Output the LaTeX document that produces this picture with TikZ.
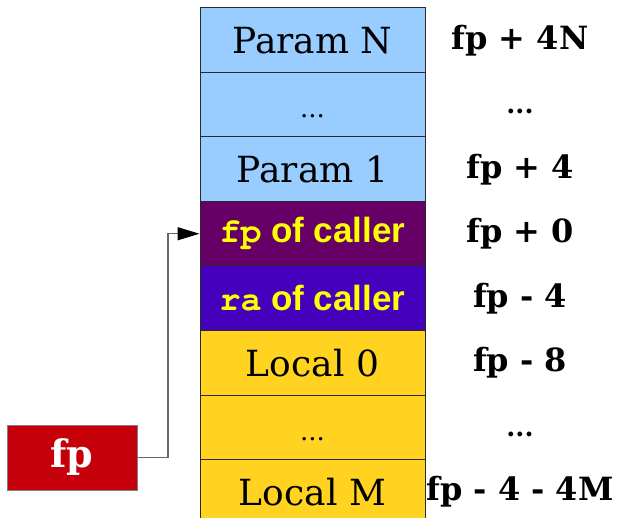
\documentclass[tikz,border=0pt]{standalone}
\usepackage{fontspec}
\setmainfont{DejaVu Serif}
\setsansfont{Liberation Sans}
\newfontfamily\cursorbold{texgyrecursor-bold.otf}
\usetikzlibrary{arrows.meta}
\definecolor{paramblue}{HTML}{99CCFF}
\definecolor{fpcaller}{HTML}{660066}
\definecolor{racaller}{HTML}{4400BB}
\definecolor{localyellow}{HTML}{FFD320}
\definecolor{fpred}{HTML}{C5000B}
\definecolor{txtyellow}{HTML}{FFFF00}
\definecolor{cellline}{HTML}{2A2A2A}
\newcommand{\regname}[1]{{\cursorbold #1}}
\newcommand{\celldots}{{\fontsize{26}{30}\selectfont ...}\vphantom{P}}
\newcommand{\offdots}{{\fontsize{26}{30}\selectfont ...}\vphantom{fp}}
\tikzset{
  cell/.style={draw=cellline, line width=1pt, minimum width=225pt, minimum height=64.5pt, inner sep=0pt, font=\fontsize{36}{42}\selectfont},
  callertext/.style={text=txtyellow, font=\fontsize{35}{40}\selectfont\sffamily\bfseries},
  offset/.style={inner sep=0pt, font=\fontsize{32}{38}\selectfont\bfseries},
  reg/.style={draw=gray, line width=1pt, fill=fpred, text=white, minimum width=130pt, minimum height=65pt, inner sep=0pt, font=\fontsize{38}{44}\selectfont\bfseries},
  conn/.style={draw=gray!80!black, line width=1.3pt}
}
\begin{document}
\begin{tikzpicture}[x=1pt,y=-1pt]
\useasboundingbox (0,0) rectangle (618,518);
\node[cell, fill=paramblue] (r1) at (312.5,40.25) {Param N};
\node[cell, fill=paramblue] (r2) at (312.5,104.75) {\celldots};
\node[cell, fill=paramblue] (r3) at (312.5,169.25) {Param 1};
\node[cell, fill=fpcaller, callertext] (r4) at (312.5,233.75) {\regname{fp} of caller};
\node[cell, fill=racaller, callertext] (r5) at (312.5,298.25) {\regname{ra} of caller};
\node[cell, fill=localyellow] (r6) at (312.5,362.75) {Local 0};
\node[cell, fill=localyellow] (r7) at (312.5,427.25) {\celldots};
\node[cell, fill=localyellow] (r8) at (312.5,491.75) {Local M};
\node[offset] (o1) at (520,40.25) {fp + 4N};
\node[offset] (o2) at (520,104.75) {\offdots};
\node[offset] (o3) at (520,169.25) {fp + 4};
\node[offset] (o4) at (520,233.75) {fp + 0};
\node[offset] (o5) at (520,298.25) {fp - 4};
\node[offset] (o6) at (520,362.75) {fp - 8};
\node[offset] (o7) at (520,427.25) {\offdots};
\node[offset] (o8) at (520,491.75) {fp - 4 - 4M};
\node[reg] (fp) at (72,457.5) {fp};
\coordinate (bend) at (168,457.5);
\draw[conn, -{Triangle[length=22pt,width=13pt,color=black,fill=black]}] (fp.east) -- (bend) |- (r4.west);
\end{tikzpicture}
\end{document}
